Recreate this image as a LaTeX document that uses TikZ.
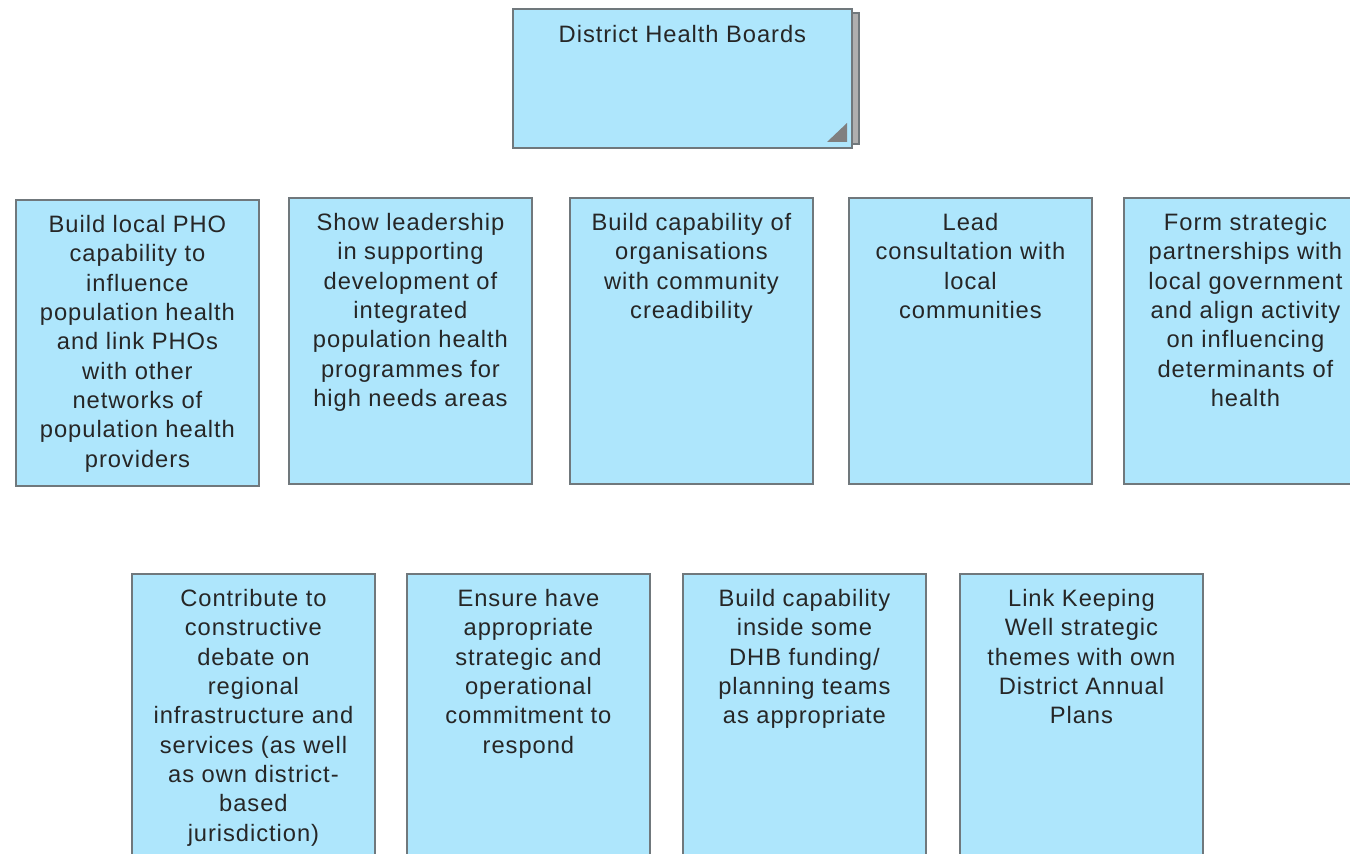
\documentclass[tikz,border=0pt]{standalone}
\usepackage{fontspec}
\setmainfont{Liberation Sans}[LetterSpace=4]
\usepackage{xcolor}
\usepackage{tikz}

\definecolor{boxblue}{RGB}{174,230,252}
\definecolor{boxline}{RGB}{112,120,124}
\definecolor{shade}{RGB}{175,175,175}

\begin{document}
\begin{tikzpicture}[x=0.02cm,y=-0.02cm,
  box/.style={draw=boxline, fill=boxblue, line width=1.1pt, anchor=north west, inner sep=0,
    minimum width=4.86cm, minimum height=5.72cm},
  txt/.style={anchor=north, align=center, inner sep=0, text=black!85,
    font=\fontsize{13.5}{16.7}\selectfont}]

\useasboundingbox (0,0) rectangle (1350,854);

% top box with its shadow
\node[box, fill=shade, minimum width=6.8cm, minimum height=2.62cm] (dhbback) at (518,12) {};
\node[box, minimum width=6.78cm, minimum height=2.78cm] (dhb) at (512,8) {};
\fill[gray] (827,142)--(847,142)--(847,123)--cycle;
\node[txt] (dhbt) at ([yshift=-0.34cm]dhb.north) {District Health Boards};

% the boxes
\foreach \n/\x/\y in {b1/15/199, b2/288/197, b3/569/197, b4/848/197, b5/1123/197,
                      c1/131/573, c2/406/573, c3/682/573, c4/959/573}{
	\node[box] (\n) at (\x,\y) {};
}

\node[txt] (b1t) at ([yshift=-0.32cm]b1.north) {Build local PHO\\capability to\\influence\\population health\\and link PHOs\\with other\\networks of\\population health\\providers};
\node[txt] (b2t) at ([yshift=-0.32cm]b2.north) {Show leadership\\in supporting\\development of\\integrated\\population health\\programmes for\\high needs areas};
\node[txt] (b3t) at ([yshift=-0.32cm]b3.north) {Build capability of\\organisations\\with community\\creadibility};
\node[txt] (b4t) at ([yshift=-0.32cm]b4.north) {Lead\\consultation with\\local\\communities};
\node[txt] (b5t) at ([yshift=-0.32cm]b5.north) {Form strategic\\partnerships with\\local government\\and align activity\\on influencing\\determinants of\\health};

\node[txt] (c1t) at ([yshift=-0.32cm]c1.north) {Contribute to\\constructive\\debate on\\regional\\infrastructure and\\services (as well\\as own district-\\based\\jurisdiction)};
\node[txt] (c2t) at ([yshift=-0.32cm]c2.north) {Ensure have\\appropriate\\strategic and\\operational\\commitment to\\respond};
\node[txt] (c3t) at ([yshift=-0.32cm]c3.north) {Build capability\\inside some\\DHB funding/\\planning teams\\as appropriate};
\node[txt] (c4t) at ([yshift=-0.32cm]c4.north) {Link Keeping\\Well strategic\\themes with own\\District Annual\\Plans};

\end{tikzpicture}
\end{document}
